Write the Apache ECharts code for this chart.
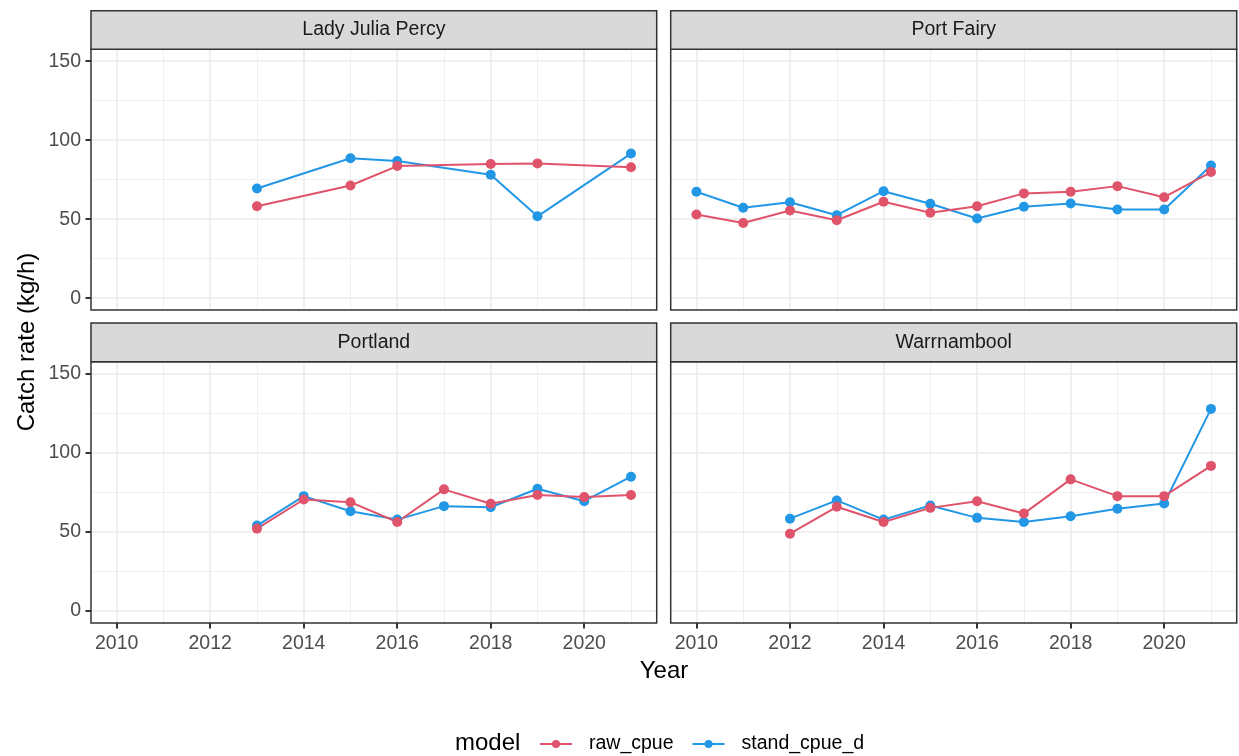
<!DOCTYPE html>
<html>
<head>
<meta charset="utf-8">
<script src="https://cdn.jsdelivr.net/npm/echarts@6/dist/echarts.min.js"></script>
<style>
  html, body { margin: 0; padding: 0; background: #ffffff; }
  #chart { width: 1239px; height: 756px; }
</style>
</head>
<body>
<div id="chart"></div>
<script>
// Catch rate by port: raw vs standardised CPUE
const sites = ['Lady Julia Percy', 'Port Fairy', 'Portland', 'Warrnambool'];
const seriesNames = ['raw_cpue', 'stand_cpue_d'];

const ljpYears = [2013, 2015, 2016, 2018, 2019, 2021];
const ljpRaw   = [58.2, 71.3, 83.6, 84.9, 85.3, 82.8];
const ljpStand = [69.4, 88.5, 86.8, 78.1, 51.8, 91.5];

const pfYears = [2010, 2011, 2012, 2013, 2014, 2015, 2016, 2017, 2018, 2019, 2020, 2021];
const pfRaw   = [52.9, 47.6, 55.5, 49.3, 61.0, 54.0, 58.2, 66.3, 67.3, 70.9, 63.9, 79.8];
const pfStand = [67.3, 57.2, 60.7, 52.5, 67.7, 59.7, 50.4, 57.8, 59.9, 56.1, 56.1, 84.0];

const plYears = [2013, 2014, 2015, 2016, 2017, 2018, 2019, 2020, 2021];
const plRaw   = [52.1, 70.5, 68.8, 56.3, 76.9, 67.8, 73.3, 72.0, 73.3];
const plStand = [54.0, 72.6, 63.1, 57.8, 66.3, 65.6, 77.3, 69.4, 84.9];

const wbYears = [2012, 2013, 2014, 2015, 2016, 2017, 2018, 2019, 2020, 2021];
const wbRaw   = [48.9, 65.9, 56.3, 65.2, 69.4, 61.6, 83.2, 72.6, 72.6, 91.7];
const wbStand = [58.4, 69.9, 57.8, 66.7, 58.9, 56.3, 59.9, 64.6, 68.0, 127.7];

// axis breaks
const xMajor = [2010, 2012, 2014, 2016, 2018, 2020];
const xMinor = [2011, 2013, 2015, 2017, 2019, 2021];
const yMajor = [0, 50, 100, 150];
const yMinor = [25, 75, 125];

// expanded limits (5% either side of the data / break range)
const xMin = 2009.45, xMax = 2021.55;
const yMin = -7.5, yMax = 157.5;

const panelData = [
  { years: ljpYears, raw: ljpRaw, stand: ljpStand },
  { years: pfYears, raw: pfRaw, stand: pfStand },
  { years: plYears, raw: plRaw, stand: plStand },
  { years: wbYears, raw: wbRaw, stand: wbStand }
];

const COLORS = { raw_cpue: '#DF536B', stand_cpue_d: '#2297E6' };
const FONT = '"Liberation Sans", Arial, Helvetica, sans-serif';

// panel geometry (px)
const colLeft = [91, 670.7];
const colWidth = [565.7, 566];
const rowTop = [49.3, 361.7];
const rowHeight = [260.7, 261.3];
const stripH = 38.6;

const grids = [], xAxes = [], yAxes = [], series = [], graphics = [];

sites.forEach((site, i) => {
  const col = i % 2, row = Math.floor(i / 2);
  const left = colLeft[col], top = rowTop[row], w = colWidth[col], h = rowHeight[row];
  grids.push({ left: left, top: top, width: w, height: h, show: false, containLabel: false });

  const isBottom = row === 1, isLeft = col === 0;
  xAxes.push({
    gridIndex: i, type: 'value', min: xMin, max: xMax, position: 'bottom',
    axisLine: { show: false, onZero: false },
    splitLine: { show: false },
    axisTick: { show: isBottom, inside: false, customValues: xMajor, length: 5.5, lineStyle: { color: '#333333', width: 2 } },
    axisLabel: { show: isBottom, customValues: xMajor, margin: 11, color: '#4d4d4d', fontSize: 19.5, fontFamily: FONT, formatter: v => String(v) }
  });
  yAxes.push({
    gridIndex: i, type: 'value', min: yMin, max: yMax, position: 'left',
    axisLine: { show: false, onZero: false },
    splitLine: { show: false },
    axisTick: { show: isLeft, inside: false, customValues: yMajor, length: 5.5, lineStyle: { color: '#333333', width: 2 } },
    axisLabel: { show: isLeft, customValues: yMajor, margin: 10, color: '#4d4d4d', fontSize: 19.5, fontFamily: FONT }
  });

  // panel grid lines
  const gl = [];
  xMinor.forEach(v => gl.push({ xAxis: v, lineStyle: { color: '#f0f0f0', width: 1, type: 'solid' } }));
  yMinor.forEach(v => gl.push({ yAxis: v, lineStyle: { color: '#f0f0f0', width: 1, type: 'solid' } }));
  xMajor.forEach(v => gl.push({ xAxis: v, lineStyle: { color: '#ebebeb', width: 1.6, type: 'solid' } }));
  yMajor.forEach(v => gl.push({ yAxis: v, lineStyle: { color: '#ebebeb', width: 1.6, type: 'solid' } }));
  series.push({
    type: 'line', name: '__grid' + i, xAxisIndex: i, yAxisIndex: i, data: [],
    silent: true, z: 1,
    markLine: {
      silent: true, z: 1, symbol: ['none', 'none'], label: { show: false },
      lineStyle: { type: 'solid' },
      emphasis: { disabled: true }, data: gl
    }
  });

  const d = panelData[i];
  [['stand_cpue_d', d.stand], ['raw_cpue', d.raw]].forEach(([name, vals]) => {
    series.push({
      type: 'line', name: name, xAxisIndex: i, yAxisIndex: i, z: 3,
      data: d.years.map((y, k) => [y, vals[k]]),
      symbol: 'circle', symbolSize: 10, showSymbol: true,
      color: COLORS[name],
      lineStyle: { color: COLORS[name], width: 2 },
      itemStyle: { color: COLORS[name] },
      emphasis: { disabled: true }
    });
  });

  // panel border
  graphics.push({
    type: 'rect', z: 10, silent: true,
    shape: { x: left, y: top, width: w, height: h },
    style: { fill: 'none', stroke: '#333333', lineWidth: 1.5 }
  });
  // facet strip
  graphics.push({
    type: 'rect', z: 10, silent: true,
    shape: { x: left, y: top - stripH, width: w, height: stripH },
    style: { fill: '#d9d9d9', stroke: '#333333', lineWidth: 1.5 }
  });
  graphics.push({
    type: 'text', z: 11, silent: true,
    x: left + w / 2, y: top - stripH / 2,
    style: { text: site, fill: '#1a1a1a', font: '19.5px ' + FONT, align: 'center', verticalAlign: 'middle' }
  });
});

// axis titles and legend title
graphics.push({
  type: 'text', z: 11, silent: true, x: 664, y: 671,
  style: { text: 'Year', fill: '#000000', font: '24px ' + FONT, align: 'center', verticalAlign: 'middle' }
});
graphics.push({
  type: 'text', z: 11, silent: true, x: 27, y: 342, rotation: Math.PI / 2,
  style: { text: 'Catch rate (kg/h)', fill: '#000000', font: '24px ' + FONT, align: 'center', verticalAlign: 'middle' }
});
graphics.push({
  type: 'text', z: 11, silent: true, x: 455, y: 743,
  style: { text: 'model', fill: '#000000', font: '24px ' + FONT, align: 'left', verticalAlign: 'middle' }
});

const chart = echarts.init(document.getElementById('chart'), null, { renderer: 'canvas' });
chart.setOption({
  animation: false,
  backgroundColor: '#ffffff',
  grid: grids,
  xAxis: xAxes,
  yAxis: yAxes,
  series: series,
  graphic: graphics,
  legend: {
    data: seriesNames,
    left: 534, top: 729,
    itemWidth: 32, itemHeight: 10, itemGap: 18,
    selectedMode: false,
    textStyle: { fontSize: 19.5, color: '#000000', fontFamily: FONT, padding: [0, 0, 0, 12] }
  }
});
</script>
</body>
</html>
